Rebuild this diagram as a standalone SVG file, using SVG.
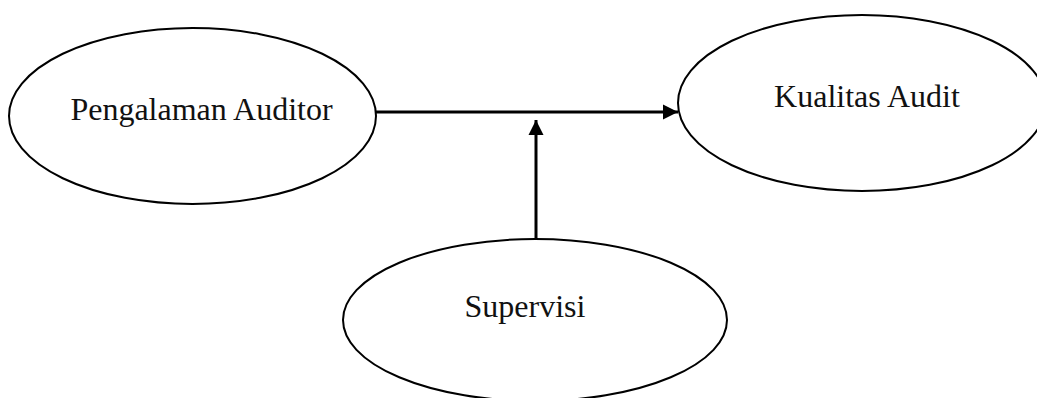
<svg xmlns="http://www.w3.org/2000/svg" width="1037" height="398" viewBox="0 0 1037 398">
<style>
.node{fill:#fff;stroke:#000;stroke-width:2}
.lbl{font-family:"Liberation Serif","Times New Roman",serif;font-size:32px;fill:#111;text-anchor:middle}
.conn{stroke:#000;stroke-width:3;fill:none}
</style>
<defs>
<marker id="ah" viewBox="0 0 10 10" refX="10" refY="5" markerWidth="15" markerHeight="16" markerUnits="userSpaceOnUse" orient="auto">
<path d="M0,0 L10,5 L0,10 z" fill="#000"/>
</marker>
</defs>
<rect width="1037" height="398" fill="#fff"/>
<g id="pengalaman">
<ellipse class="node" cx="192.5" cy="116" rx="183.5" ry="88"/>
<text class="lbl" x="201.5" y="120">Pengalaman Auditor</text>
</g>
<g id="kualitas">
<ellipse class="node" cx="862" cy="103" rx="184" ry="88"/>
<text class="lbl" x="867" y="107">Kualitas Audit</text>
</g>
<g id="supervisi">
<ellipse class="node" cx="535" cy="320" rx="192" ry="81"/>
<text class="lbl" x="525" y="317">Supervisi</text>
</g>
<g id="connectors">
<line class="conn" x1="376" y1="112" x2="678" y2="112" marker-end="url(#ah)"/>
<line class="conn" x1="536" y1="239" x2="536" y2="120" marker-end="url(#ah)"/>
</g>
</svg>
